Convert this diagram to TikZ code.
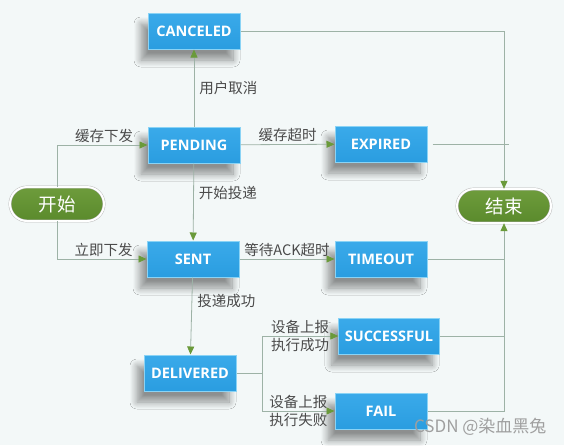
\documentclass[tikz,border=0pt]{standalone}
\usepackage{fontspec}
\setmainfont{Open Sans}
\newfontfamily\cjk{Noto Sans CJK SC}
\usetikzlibrary{positioning,arrows.meta,shadows.blur}
\definecolor{boxblue}{HTML}{2A9DE0}
\definecolor{boxtop}{HTML}{3AAAEA}
\definecolor{boxedge}{HTML}{8AD3F5}
\definecolor{pillgreen}{HTML}{5A8A2C}
\definecolor{pilltop}{HTML}{6E9C3C}
\definecolor{linegray}{HTML}{9DB2A6}
\definecolor{tipgreen}{HTML}{6A9A3A}
\definecolor{labelgray}{HTML}{4A4A4A}
\definecolor{bgpale}{HTML}{F3F8F8}
\begin{document}
\begin{tikzpicture}[x=1pt,y=-1pt,
    state/.style={draw=boxedge, line width=1pt, top color=boxtop, bottom color=boxblue,
      minimum width=92pt, minimum height=36pt, inner xsep=6pt, text=white,
      font=\fontsize{14.5}{16}\selectfont\bfseries,
      blur shadow={shadow xshift=-7pt, shadow yshift=-11pt, shadow blur radius=7pt,
        shadow blur steps=10, shadow opacity=42}},
    pill/.style={draw=gray!60, double=white, double distance=2pt, top color=pilltop,
      bottom color=pillgreen, rounded corners=17pt, minimum width=94pt, minimum height=34pt,
      text=white, font=\cjk\fontsize{18.5}{20}\selectfont},
    link/.style={draw=linegray, line width=0.8pt},
    flow/.style={link, -{Triangle[length=8pt,width=7pt,color=tipgreen]}},
    lbl/.style={text=labelgray, font=\cjk\fontsize{14.5}{16}\selectfont, inner sep=2pt}]
    % background
    \fill[bgpale] (0,0) rectangle (564,445);
    \useasboundingbox (0,0) rectangle (564,445);
    % states
    \node[pill] (start) at (57,204) {开始};
    \node[pill] (finish) at (504,206) {结束};
    \node[state] (canceled) at (194,31) {CANCELED};
    \node[state] (pending) at (194,145) {PENDING};
    \node[state] (expired) at (381,144) {EXPIRED};
    \node[state] (sent) at (193,259) {SENT};
    \node[state] (timeout) at (381,259) {TIMEOUT};
    \node[state] (delivered) at (190,373) {DELIVERED};
    \node[state] (successful) at (389,336) {SUCCESSFUL};
    \node[state] (fail) at (381,411) {FAIL};
    % transitions
    \draw[flow] (start.north) |- node[lbl, pos=0.76, above] {缓存下发} (pending.west);
    \draw[flow] (start.south) |- node[lbl, pos=0.76, above] {立即下发} (sent.west);
    \draw[flow] (pending) -- node[lbl, right=3pt] {用户取消} (canceled);
    \draw[flow] (pending) -- node[lbl, pos=0.38, right=3pt] {开始投递} (sent);
    \draw[flow] (pending) -- node[lbl, above] {缓存超时} (expired);
    \draw[flow] (sent) -- node[lbl, above] {等待ACK超时} (timeout);
    \draw[flow] (sent) -- node[lbl, pos=0.3, right=3pt] {投递成功} (delivered);
    \coordinate (split) at (262,373);
    \draw[link] (delivered.east) -- (split);
    \draw[flow] (split) |- node[lbl, pos=0.75, above] {设备上报} node[lbl, pos=0.75, below] {执行成功} (successful.west);
    \draw[flow] (split) |- node[lbl, pos=0.75, above] {设备上报} node[lbl, pos=0.75, below] {执行失败} (fail.west);
    % to the end
    \draw[flow] (canceled.east) -| (finish.north);
    \draw[link] ([xshift=5pt]expired.east) -- ([xshift=5pt]expired.east -| finish.north);
    \draw[flow] (fail.east) -| (finish.south);
    \draw[link] (timeout.east) -- (timeout.east -| finish.south);
    \draw[link] (successful.east) -- (successful.east -| finish.south);
    % watermark
    \node[text=gray!75, font=\cjk\fontsize{17}{19}\selectfont, anchor=east] (mark) at (550,427) {CSDN @染血黑兔};
\end{tikzpicture}
\end{document}
